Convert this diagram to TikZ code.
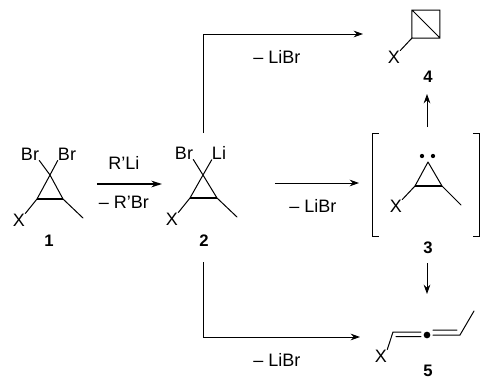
\documentclass[tikz,border=0pt]{standalone}
\usepackage{fontspec}
\setmainfont{Liberation Sans}
\usetikzlibrary{arrows.meta}
\tikzset{x=0.75pt,y=-0.75pt,
  lbl/.style={inner sep=0pt,font=\fontsize{13.5pt}{14pt}\selectfont},
  num/.style={inner sep=0pt,font=\fontsize{12.5pt}{13pt}\selectfont\bfseries},
  bond/.style={line width=0.75pt,line cap=round,line join=miter},
  dbl/.style={line width=1.2pt},
  rxn/.style={line width=0.7pt,-{Stealth[length=7pt,width=5pt]}},
  rxnb/.style={line width=1.1pt,-{Stealth[length=8pt,width=5pt]}},
  brk/.style={line width=0.7pt},
  dotm/.style={circle,fill=black,inner sep=0pt}}
\begin{document}
\begin{tikzpicture}
\useasboundingbox (0,0) rectangle (480,379);
% compound 1
\coordinate (a1) at (50,175); \coordinate (b1) at (37,199); \coordinate (c1) at (63,199);
\coordinate (m1) at (83,218);
\node[lbl] (x1) at (19,220) {X};
\node[lbl] (br1) at (30,154) {Br};
\node[lbl] (br2) at (67,154) {Br};
\node[num] (n1) at (49,241) {1};
\draw[bond] (a1)--(b1) (a1)--(c1) (b1)--(x1.north east) (c1)--(m1);
\draw[dbl] (b1)--(c1);
\draw[bond] (a1)--(br1.south east) (a1)--(br2.south west);
% compound 2
\coordinate (a2) at (203,175); \coordinate (b2) at (190,198); \coordinate (c2) at (217,198);
\coordinate (m2) at (237,217);
\node[lbl] (x2) at (172,219) {X};
\node[lbl] (br3) at (184,153) {Br};
\node[lbl] (li) at (219,153) {Li};
\node[num] (n2) at (204,241) {2};
\draw[bond] (a2)--(b2) (a2)--(c2) (b2)--(x2.north east) (c2)--(m2);
\draw[dbl] (b2)--(c2);
\draw[bond] (a2)--(br3.south east) (a2)--(li.south west);
% step 1 -> 2
\coordinate (s1) at (97,184); \coordinate (e1) at (162,184);
\draw[rxnb] (s1)--(e1);
\node[lbl] (rli) at (124,163) {R'Li};
\node[lbl] (rbr) at (124,202) {– R'Br};
% upper path
\coordinate (ts) at (203,133); \coordinate (tc) at (203,34); \coordinate (te) at (363,34);
\draw[rxn] (ts)--(tc)--(te);
\node[lbl] (l1) at (277,57) {– LiBr};
% lower path
\coordinate (us) at (203,262); \coordinate (uc) at (203,337); \coordinate (ue) at (360,337);
\draw[rxn] (us)--(uc)--(ue);
\node[lbl] (l2) at (277,360) {– LiBr};
% middle arrow
\coordinate (ms) at (275,183); \coordinate (me) at (359,183);
\draw[rxn] (ms)--(me);
\node[lbl] (l3) at (313,206) {– LiBr};
% compound 4
\coordinate (q1) at (412,10); \coordinate (q2) at (440,10); \coordinate (q3) at (440,38); \coordinate (q4) at (412,38);
\draw[bond] (q1)--(q2)--(q3)--(q4)--cycle (q1)--(q3);
\node[lbl] (x4) at (394,57) {X};
\draw[bond] (q4)--(x4.north east);
\node[num] (n4) at (428,77) {4};
% compound 3
\coordinate (a3) at (428,162); \coordinate (b3) at (415,186); \coordinate (c3) at (442,186);
\coordinate (m3) at (461,205);
\draw[bond] (a3)--(b3) (a3)--(c3) (c3)--(m3);
\draw[dbl] (b3)--(c3);
\node[lbl] (x3) at (396,206) {X};
\draw[bond] (b3)--(x3.north east);
\node[dotm,minimum size=3.2pt] (d1) at (422,156) {};
\node[dotm,minimum size=3.2pt] (d2) at (433,156) {};
\draw[brk] (379,133)--(372,133)--(372,236)--(379,236);
\draw[brk] (473,133)--(479.5,133)--(479.5,236)--(473,236);
\node[num] (n3) at (428,248) {3};
% arrows from 3
\coordinate (u1) at (427,127); \coordinate (u2) at (427,94);
\draw[rxn] (u1)--(u2);
\coordinate (v1) at (427,263); \coordinate (v2) at (427,294);
\draw[rxn] (v1)--(v2);
% compound 5
\node[lbl] (x5) at (381,356) {X};
\coordinate (p1) at (393,332); \coordinate (p2) at (421,332);
\coordinate (p3) at (396,336.5); \coordinate (p4) at (421,336.5);
\node[dotm,minimum size=5pt] (dc) at (427,335) {};
\coordinate (r1) at (433,335); \coordinate (r2) at (460,335);
\coordinate (r3) at (433,330); \coordinate (r4) at (457,330);
\coordinate (r5) at (474,311);
\draw[bond] (x5.north east)--(p1)--(p2) (p3)--(p4) (r1)--(r2)--(r5) (r3)--(r4);
\node[num] (n5) at (428,371) {5};
\end{tikzpicture}
\end{document}
